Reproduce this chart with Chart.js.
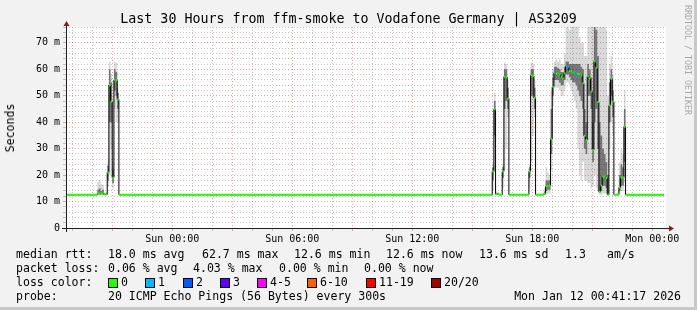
<!DOCTYPE html>
<html>
<head>
<meta charset="utf-8">
<script src="https://cdn.jsdelivr.net/npm/chart.js@4.4.1/dist/chart.umd.min.js"></script>
<style>
html,body{margin:0;padding:0;background:#f2f2f2;}
#wrap{position:relative;width:697px;height:310px;background:#f2f2f2;overflow:hidden;font-family:"DejaVu Sans Mono",monospace;color:#000;}
#wrap canvas{position:absolute;left:0;top:0;}
.t{position:absolute;white-space:pre;font-size:11.55px;line-height:14px;}
.box{position:absolute;width:8px;height:8px;border:1px solid #000;}
#title{position:absolute;left:0;top:11px;width:697px;text-align:center;font-size:13.3px;line-height:16px;white-space:pre;}
#ylab{position:absolute;left:10px;top:128px;font-size:11.55px;line-height:14px;transform:translate(-50%,-50%) rotate(-90deg);white-space:pre;}
#sig{position:absolute;left:688px;top:60px;font-size:8.3px;line-height:10px;color:#a8a8a8;transform:translate(-50%,-50%) rotate(90deg);white-space:pre;}
#shR{position:absolute;right:0;top:0;width:3px;height:310px;background:#c8c8c8;}
#shB{position:absolute;left:0;bottom:0;width:697px;height:3px;background:#c8c8c8;}
</style>
</head>
<body>
<div id="wrap">
  <canvas id="c" width="697" height="310"></canvas>
  <div id="title"></div>
  <div id="ylab"></div>
  <div id="sig"></div>
  <div id="legend"></div>
  <div id="shR"></div>
  <div id="shB"></div>
</div>
<script>
// ---- data (minutes relative to Sun 00:00, each value holds until the next time) ----
const times        = [-320,-225,-220,-215,-210,-205,-200,-195,-190,-185,-180,-175,-170,-165,-160, 960, 965, 970, 975, 980, 990, 995,1000,1005,1010,1070,1075,1080,1085,1090,1115,1120,1125,1130,1135,1140,1145,1150,1155,1160,1165,1170,1175,1180,1185,1190,1195,1200,1205,1210,1215,1220,1225,1230,1235,1240,1245,1250,1255,1260,1265,1270,1275,1280,1285,1290,1295,1300,1305,1310,1315,1320,1325,1340,1345,1350,1355,1360,1475];
const median       = [12.6,13.0,13.0,13.0,13.3,12.7,12.7,21.0,54.0,47.8,19.0,56.0,55.8,48.6,12.6,21.4,44.9,12.8,12.9,12.6,21.4,57.2,57.0,49.0,12.6,21.4,57.8,57.5,49.2,12.6,13.0,15.7,15.9,16.0,33.6,53.4,58.6,58.3,58.4,58.0,57.0,56.5,58.5,61.2,61.0,59.4,59.3,58.8,58.5,58.4,58.2,58.2,57.7,54.7,34.8,33.3,57.4,56.6,51.6,29.5,63.0,60.6,47.6,13.7,16.0,19.5,19.5,18.9,12.6,46.3,56.4,47.8,12.6,15.3,19.1,19.1,38.3,12.6,12.6];
const lossCount    = [0,0,0,0,0,0,0,0,0,0,0,0,0,0,0,0,0,0,0,0,0,0,0,0,0,0,0,0,0,0,0,0,0,0,0,0,1,0,0,0,0,0,0,1,1,0,0,0,1,1,0,0,0,0,0,0,0,0,0,0,0,0,0,0,0,0,0,0,0,0,0,0,0,0,0,0,0,0,0];
const smokeOuterLo = [12.4,12.5,12.5,12.6,12.6,12.5,12.5,15.5,20.0,30.0,15.0,45.0,40.0,40.0,12.4,14.0,21.0,12.5,12.5,12.4,15.0,22.0,30.0,42.0,12.4,15.0,25.0,35.0,42.0,12.4,12.5,12.8,13.0,13.0,22.0,46.0,53.0,53.0,53.0,52.0,50.0,50.0,52.0,55.0,55.0,54.0,52.0,50.0,48.0,45.0,30.0,20.0,18.0,25.0,18.0,18.0,17.0,17.0,15.0,16.0,20.0,15.0,14.0,12.6,12.6,13.0,13.0,13.0,12.5,30.0,40.0,35.0,12.4,13.0,14.0,14.0,17.0,12.4,12.4];
const smokeOuterHi = [12.8,17.5,18.2,16.5,16.3,13.2,13.5,25.5,63.0,58.0,25.0,63.0,62.5,53.0,12.8,24.5,51.0,13.8,13.5,12.8,24.0,62.5,62.0,56.0,12.8,24.0,62.5,62.0,56.0,12.8,15.0,23.0,21.0,20.0,52.0,60.0,63.0,64.0,63.0,64.0,62.0,62.0,66.0,80.0,80.0,75.0,80.0,80.0,80.0,80.0,80.0,72.0,70.0,70.0,65.0,65.0,80.0,80.0,80.0,80.0,80.0,80.0,80.0,80.0,80.0,80.0,80.0,75.0,50.0,62.0,65.0,58.0,12.8,25.0,30.0,28.0,52.0,12.8,12.8];
const smokeInnerLo = [12.5,12.7,12.7,12.8,12.8,12.6,12.6,18.0,40.0,40.0,17.0,52.0,50.0,45.0,12.5,18.0,35.0,12.6,12.6,12.5,19.0,45.0,48.0,45.0,12.5,19.0,50.0,50.0,45.0,12.5,12.7,14.0,14.5,14.5,28.0,50.0,56.0,56.0,56.0,55.0,54.0,54.0,56.0,58.0,58.0,57.0,56.0,55.0,55.0,54.0,52.0,50.0,48.0,45.0,30.0,28.0,50.0,50.0,45.0,25.0,40.0,45.0,30.0,13.5,14.0,16.0,16.0,15.0,12.8,40.0,50.0,42.0,12.5,14.0,16.0,16.0,25.0,12.5,12.5];
const smokeInnerHi = [12.7,14.5,15.0,14.0,14.5,12.9,13.0,23.5,60.0,55.0,22.0,60.0,59.0,51.0,12.7,23.0,48.0,13.2,13.2,12.7,23.0,60.0,60.0,53.0,12.7,23.0,60.0,60.0,53.0,12.7,13.8,18.0,18.0,18.0,45.0,57.0,61.0,61.0,60.5,60.0,59.0,59.0,61.0,63.0,63.0,62.0,62.0,62.0,62.0,62.0,62.0,62.0,61.0,60.0,45.0,40.0,62.0,60.0,57.0,40.0,80.0,75.0,65.0,40.0,35.0,30.0,28.0,25.0,20.0,55.0,60.0,52.0,12.7,20.0,24.0,23.0,45.0,12.7,12.7];

const xTickValues = [0, 360, 720, 1080, 1440];
const xTickLabels = ['Sun 00:00', 'Sun 06:00', 'Sun 12:00', 'Sun 18:00', 'Mon 00:00'];
const yTickValues = [0, 10, 20, 30, 40, 50, 60, 70];
const yTickLabels = ['0', '10 m', '20 m', '30 m', '40 m', '50 m', '60 m', '70 m'];

const lossLabels = ['0', '1', '2', '3', '4-5', '6-10', '11-19', '20/20'];
const lossColors = ['#26ff00', '#00b8ff', '#0059ff', '#5e00ff', '#ff00ff', '#ff5e00', '#ff0000', '#a00000'];

const titleText = 'Last 30 Hours from ffm-smoke to Vodafone Germany | AS3209';
const yAxisTitle = 'Seconds';
const rttStats  = ['18.0 ms avg', '62.7 ms max', '12.6 ms min', '12.6 ms now', '13.6 ms sd', '1.3', 'am/s'];
const lossStats = ['0.06 % avg', '4.03 % max', '0.00 % min', '0.00 % now'];
const probeText = '20 ICMP Echo Pings (56 Bytes) every 300s';
const stampText = 'Mon Jan 12 00:41:17 2026';

const xMin = -318.7, xMax = 1481.3, yMin = 0, yMax = 76;

// ---- text ----
document.getElementById('title').textContent = titleText;
document.getElementById('ylab').textContent = yAxisTitle;
document.getElementById('sig').textContent = 'RRDTOOL / TOBI OETIKER';
const legend = document.getElementById('legend');
function addText(txt, left, top, right) {
  const d = document.createElement('div');
  d.className = 't';
  d.textContent = txt;
  if (right !== undefined) d.style.right = right + 'px'; else d.style.left = left + 'px';
  d.style.top = top + 'px';
  legend.appendChild(d);
}
const rowTop = [247, 261, 275, 289];
const rttX = [108, 202, 294, 386, 479, 565, 607];
const lossX = [108, 193, 279, 364];
const boxX = [108, 145, 183, 220, 257, 307, 366, 431];
addText('median rtt:', 16, rowTop[0]);
rttStats.forEach((s, i) => addText(s, rttX[i], rowTop[0]));
addText('packet loss:', 16, rowTop[1]);
lossStats.forEach((s, i) => addText(s, lossX[i], rowTop[1]));
addText('loss color:', 16, rowTop[2]);
lossLabels.forEach((s, i) => {
  const b = document.createElement('div');
  b.className = 'box';
  b.style.left = boxX[i] + 'px';
  b.style.top = (rowTop[2] + 3) + 'px';
  b.style.background = lossColors[i];
  legend.appendChild(b);
  addText(s, boxX[i] + 13, rowTop[2]);
});
addText('probe:', 16, rowTop[3]);
addText(probeText, 108, rowTop[3]);
addText(stampText, 0, rowTop[3], 16);

// ---- datasets built from the arrays ----
const pts = arr => times.map((t, i) => ({ x: t, y: arr[i] }));
const dashPts = [];
const dashLoss = [];
for (let i = 0; i < times.length - 1; i++) {
  dashPts.push({ x: times[i], y: median[i] }, { x: times[i + 1], y: median[i] }, { x: times[i + 1], y: null });
  dashLoss.push(lossCount[i]);
}
function lossColor(n) {
  if (n <= 0) return lossColors[0];
  if (n === 1) return lossColors[1];
  if (n === 2) return lossColors[2];
  if (n === 3) return lossColors[3];
  if (n <= 5) return lossColors[4];
  if (n <= 10) return lossColors[5];
  if (n <= 19) return lossColors[6];
  return lossColors[7];
}

const GRID = 'rgba(143,143,143,0.5)';
const MGRID = 'rgba(222,79,79,0.5)';

const canvasBg = {
  id: 'canvasBg',
  beforeDraw(chart) {
    const { ctx, chartArea: a } = chart;
    ctx.save();
    ctx.fillStyle = '#ffffff';
    ctx.fillRect(a.left, a.top, a.right - a.left, a.bottom - a.top);
    ctx.restore();
  }
};
const rrdAxes = {
  id: 'rrdAxes',
  afterDraw(chart) {
    const { ctx, chartArea: a } = chart;
    ctx.save();
    ctx.strokeStyle = '#1f1f1f';
    ctx.lineWidth = 1;
    ctx.beginPath();
    ctx.moveTo(a.left - 4, a.bottom + 0.5);
    ctx.lineTo(a.right + 4, a.bottom + 0.5);
    ctx.moveTo(a.left + 0.5, a.bottom + 4);
    ctx.lineTo(a.left + 0.5, a.top - 3);
    ctx.stroke();
    ctx.fillStyle = '#801f1f';
    ctx.beginPath();
    ctx.moveTo(a.right + 8, a.bottom + 0.5);
    ctx.lineTo(a.right + 3, a.bottom - 2.5);
    ctx.lineTo(a.right + 3, a.bottom + 3.5);
    ctx.closePath();
    ctx.fill();
    ctx.beginPath();
    ctx.moveTo(a.left + 0.5, a.top - 6);
    ctx.lineTo(a.left - 2.5, a.top - 1);
    ctx.lineTo(a.left + 3.5, a.top - 1);
    ctx.closePath();
    ctx.fill();
    ctx.restore();
  }
};

const tickFont = { family: 'DejaVu Sans Mono', size: 10 };

new Chart(document.getElementById('c'), {
  type: 'line',
  data: {
    datasets: [
      { data: pts(smokeOuterLo), borderWidth: 0, pointRadius: 0, stepped: true, fill: false, order: 6 },
      { data: pts(smokeOuterHi), borderWidth: 0, pointRadius: 0, stepped: true, fill: 0, backgroundColor: 'rgba(0,0,0,0.15)', order: 5 },
      { data: pts(smokeInnerLo), borderWidth: 0, pointRadius: 0, stepped: true, fill: false, order: 4 },
      { data: pts(smokeInnerHi), borderWidth: 0, pointRadius: 0, stepped: true, fill: 2, backgroundColor: 'rgba(0,0,0,0.45)', order: 3 },
      { data: pts(median), borderColor: '#000000', borderWidth: 1, pointRadius: 0, stepped: true, fill: false, order: 2 },
      {
        data: dashPts, borderWidth: 2, pointRadius: 0, fill: false, spanGaps: false, order: 1,
        borderColor: lossColors[0], borderCapStyle: 'butt',
        segment: { borderColor: c => lossColor(dashLoss[Math.floor(c.p0DataIndex / 3)]) }
      }
    ]
  },
  options: {
    responsive: false,
    animation: false,
    devicePixelRatio: 1,
    events: [],
    layout: { padding: { left: 0, top: 27, right: 31, bottom: 0 } },
    plugins: { legend: { display: false }, tooltip: { enabled: false }, title: { display: false } },
    scales: {
      x: {
        type: 'linear', min: xMin, max: xMax,
        afterBuildTicks: s => { const t = []; for (let v = Math.ceil(xMin / 60) * 60; v <= xMax; v += 60) t.push({ value: v }); s.ticks = t; },
        afterFit: s => { s.height = 82; },
        grid: {
          color: c => (c.tick && c.tick.value % 180 === 0) ? MGRID : GRID,
          tickColor: c => (c.tick && c.tick.value % 180 === 0) ? MGRID : GRID,
          lineWidth: 1, drawTicks: true, tickLength: 3
        },
        border: { display: false, dash: [1, 2] },
        ticks: {
          autoSkip: false, maxRotation: 0, minRotation: 0, padding: 2, color: '#000', font: tickFont,
          callback: v => { const i = xTickValues.indexOf(v); return i < 0 ? '' : xTickLabels[i]; }
        }
      },
      y: {
        type: 'linear', min: yMin, max: yMax,
        afterBuildTicks: s => { const t = []; for (let v = yMin; v <= yMax; v += 2) t.push({ value: v }); s.ticks = t; },
        afterFit: s => { s.width = 66; },
        grid: {
          color: c => (c.tick && c.tick.value % 10 === 0) ? MGRID : GRID,
          tickColor: c => (c.tick && c.tick.value % 10 === 0) ? MGRID : GRID,
          lineWidth: 1, drawTicks: true, tickLength: 3
        },
        border: { display: false, dash: [1, 2] },
        ticks: {
          autoSkip: false, padding: 3, color: '#000', font: tickFont,
          callback: v => { const i = yTickValues.indexOf(v); return i < 0 ? '' : yTickLabels[i]; }
        }
      }
    }
  },
  plugins: [canvasBg, rrdAxes]
});
</script>
</body>
</html>
